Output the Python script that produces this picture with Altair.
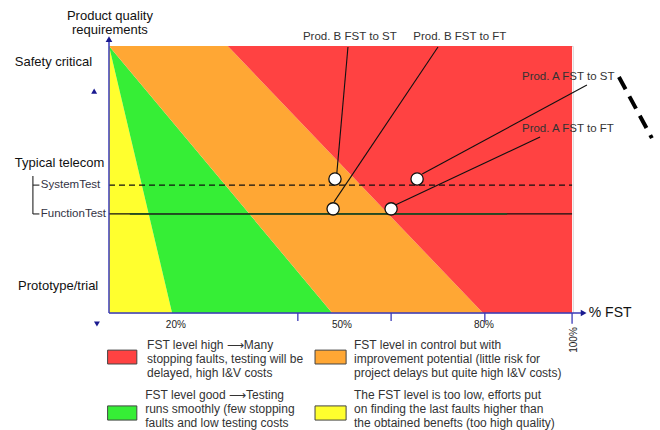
import altair as alt
import pandas as pd

# ---------------- data ----------------
zone_names = ["too low", "good", "in control", "high"]
zone_colors = ["#FFFF2E", "#36EE36", "#FFA734", "#FF4242"]
bound_bottom = [0, 13.6, 48.1, 80.6, 99.8]   # % FST where zone boundaries meet the bottom
bound_top = [0, 0, 0, 25.6, 99.8]            # % FST where zone boundaries meet the top

levels = ["Safety critical", "Typical telecom", "Prototype/trial"]
level_y = [94.0, 56.2, 10.1]
test_names = ["SystemTest", "FunctionTest"]
test_y = [47.9, 37.1]

point_names = ["Prod. B FST to ST", "Prod. A FST to ST", "Prod. B FST to  FT", "Prod. A FST to FT"]
point_x = [48.7, 66.4, 48.3, 60.8]
point_y = [50.2, 50.2, 39.0, 39.0]

tick_labels = ["20%", "50%", "80%"]
tick_label_x = [14.4, 50.2, 80.8]
tick_marks = [40.7, 60.8, 81.0, 99.8]

legend_texts = [
    "FST level high \u27F6Many\nstopping faults, testing will be\ndelayed, high I&V costs",
    "FST level in control but with\nimprovement potential (little risk for\nproject delays but quite high I&V costs)",
    "FST level good \u27F6Testing\nruns smoothly (few stopping\nfaults and low testing costs",
    "The FST level is too low,  efforts put\non finding the last faults higher than\nthe obtained benefts (too high quality)",
]
legend_zone = ["high", "in control", "good", "too low"]

FONT = "Liberation Sans"
AX = "#3a3ab8"

xs = alt.Scale(domain=[0, 100], nice=False, zero=False)
ys = alt.Scale(domain=[0, 100], nice=False, zero=False)


def X(f="x"):
    return alt.X(f"{f}:Q", scale=xs, axis=None)


def Y(f="y"):
    return alt.Y(f"{f}:Q", scale=ys, axis=None)


# ---------------- zones ----------------
rows = []
for i, z in enumerate(zone_names):
    rows.append({"zone": z, "y": 0, "x": bound_bottom[i], "x2": bound_bottom[i + 1]})
    rows.append({"zone": z, "y": 100, "x": bound_top[i], "x2": bound_top[i + 1]})
zones_df = pd.DataFrame(rows)
zone_scale = alt.Scale(domain=zone_names, range=zone_colors)

zones = alt.Chart(zones_df).mark_area(orient="horizontal", opacity=1).encode(
    y=Y(), x=X(), x2="x2:Q",
    color=alt.Color("zone:N", scale=zone_scale, legend=None),
)

# ---------------- test level lines ----------------
lines_df = pd.DataFrame({"name": test_names, "y": test_y, "x": [0, 0], "x2": [99.8, 99.8]})
sys_line = alt.Chart(lines_df[lines_df.name == "SystemTest"]).mark_rule(
    color="#111", strokeWidth=1.2, strokeDash=[6, 4]).encode(x=X(), x2="x2:Q", y=Y())
fun_line = alt.Chart(lines_df[lines_df.name == "FunctionTest"]).mark_rule(
    color="#111", strokeWidth=1.2).encode(x=X(), x2="x2:Q", y=Y())
fun_line2 = alt.Chart(pd.DataFrame({"x": [4.5], "x2": [85.8], "y": [test_y[1]]})).mark_rule(
    color="#224a22", strokeWidth=1.8).encode(x=X(), x2="x2:Q", y=Y())

# ---------------- leader lines + circles ----------------
lead_df = pd.DataFrame({
    "x": [49.1, 67.5, 48.5, 61.6], "y": [52.4, 52.1, 41.6, 40.4],
    "x2": [51.5, 103.0, 70.9, 92.9], "y2": [99.6, 85.4, 99.6, 65.9],
})
leaders = alt.Chart(lead_df).mark_rule(color="#111", strokeWidth=1.1).encode(
    x=X(), y=Y(), x2="x2:Q", y2="y2:Q")

pts_df = pd.DataFrame({"name": point_names, "x": point_x, "y": point_y})
points = alt.Chart(pts_df).mark_point(
    shape="circle", filled=True, fill="white", stroke="#111", strokeWidth=1.3,
    size=150, opacity=1).encode(x=X(), y=Y())

lab_top = alt.Chart(pd.DataFrame({"t": [point_names[0], point_names[2]], "x": [51.9, 75.6], "y": [103.4, 103.4]})).mark_text(
    font=FONT, fontSize=11.5, color="#333", align="center", baseline="middle").encode(x=X(), y=Y(), text="t:N")
lab_right = alt.Chart(pd.DataFrame({"t": [point_names[1], point_names[3]], "x": [89.0, 89.0], "y": [88.4, 68.9]})).mark_text(
    font=FONT, fontSize=11.5, color="#333", align="left", baseline="middle").encode(x=X(), y=Y(), text="t:N")

# decorative thick dashed stroke on the right
deco = alt.Chart(pd.DataFrame({"x": [109.9], "y": [88.4], "x2": [117.0], "y2": [65.5]})).mark_rule(
    color="#000", strokeWidth=4, strokeDash=[14, 8]).encode(x=X(), y=Y(), x2="x2:Q", y2="y2:Q")

# ---------------- axes ----------------
yaxis = alt.Chart(pd.DataFrame({"x": [0], "y": [0], "y2": [101.5]})).mark_rule(
    color=AX, strokeWidth=1.5).encode(x=X(), y=Y(), y2="y2:Q")
xaxis = alt.Chart(pd.DataFrame({"x": [0], "x2": [101.8], "y": [0]})).mark_rule(
    color=AX, strokeWidth=1.5).encode(x=X(), x2="x2:Q", y=Y())
arrow_up = alt.Chart(pd.DataFrame({"x": [0], "y": [102.6]})).mark_point(
    shape="triangle-up", filled=True, color="#1a1a90", size=45, opacity=1).encode(x=X(), y=Y())
arrow_right = alt.Chart(pd.DataFrame({"x": [102.3], "y": [0]})).mark_point(
    shape="triangle-right", filled=True, color="#1a1a90", size=45, opacity=1).encode(x=X(), y=Y())
tri_up = alt.Chart(pd.DataFrame({"x": [-3.2], "y": [83.1]})).mark_point(
    shape="triangle-up", filled=True, color="#1a1a90", size=35, opacity=1).encode(x=X(), y=Y())
tri_down = alt.Chart(pd.DataFrame({"x": [-2.6], "y": [-4.1]})).mark_point(
    shape="triangle-down", filled=True, color="#1a1a90", size=35, opacity=1).encode(x=X(), y=Y())

ticks_df = pd.DataFrame({"x": tick_marks, "y": [0] * 4, "y2": [-3.0, -3.0, -3.4, -4.0]})
ticks = alt.Chart(ticks_df).mark_rule(color=AX, strokeWidth=1.3).encode(x=X(), y=Y(), y2="y2:Q")

tick_text = alt.Chart(pd.DataFrame({"t": tick_labels, "x": tick_label_x, "y": [-4.5] * 3})).mark_text(
    font=FONT, fontSize=10, color="#222", align="center", baseline="middle").encode(x=X(), y=Y(), text="t:N")
tick_100 = alt.Chart(pd.DataFrame({"t": ["100%"], "x": [100.2], "y": [-10.1]})).mark_text(
    font=FONT, fontSize=10, color="#222", align="center", baseline="middle", angle=270).encode(x=X(), y=Y(), text="t:N")
fst_title = alt.Chart(pd.DataFrame({"t": ["% FST"], "x": [103.4], "y": [0]})).mark_text(
    font=FONT, fontSize=14, color="#111", align="left", baseline="middle").encode(x=X(), y=Y(), text="t:N")

y_title = alt.Chart(pd.DataFrame({"t": ["Product quality\nrequirements"], "x": [0.2], "y": [111.2]})).mark_text(
    font=FONT, fontSize=13, color="#111", align="center", baseline="middle", lineBreak="\n", lineHeight=14).encode(
    x=X(), y=Y(), text="t:N")

lvl_text = alt.Chart(pd.DataFrame({"t": levels, "x": [-20.3, -20.3, -19.6], "y": level_y})).mark_text(
    font=FONT, fontSize=13, color="#111", align="left", baseline="middle").encode(x=X(), y=Y(), text="t:N")
test_text = alt.Chart(pd.DataFrame({"t": test_names, "x": [-14.7, -14.7], "y": test_y})).mark_text(
    font=FONT, fontSize=11.5, color="#333344", align="left", baseline="middle").encode(x=X(), y=Y(), text="t:N")

bracket_v = alt.Chart(pd.DataFrame({"x": [-16.4], "y": [51.3], "y2": [test_y[1]]})).mark_rule(
    color="#222", strokeWidth=1.1).encode(x=X(), y=Y(), y2="y2:Q")
bracket_h = alt.Chart(pd.DataFrame({"x": [-16.4, -16.4], "x2": [-15.0, -15.0], "y": test_y})).mark_rule(
    color="#222", strokeWidth=1.1).encode(x=X(), x2="x2:Q", y=Y())

# ---------------- legend ----------------
leg_df = pd.DataFrame({
    "zone": legend_zone,
    "x": [-0.3, 44.4, -0.3, 44.4], "x2": [6.0, 51.1, 6.0, 51.1],
    "y": [-13.9, -13.9, -34.8, -34.8], "y2": [-19.1, -19.1, -40.1, -40.1],
})
leg_rect = alt.Chart(leg_df).mark_rect(stroke="#444", strokeWidth=1).encode(
    x=X(), x2="x2:Q", y=Y(), y2="y2:Q",
    color=alt.Color("zone:N", scale=zone_scale, legend=None))
leg_txt_df = pd.DataFrame({"t": legend_texts, "x": [8.2, 52.8, 7.8, 52.8], "y": [-12.0, -12.0, -30.7, -30.7]})
leg_txt = alt.Chart(leg_txt_df).mark_text(
    font=FONT, fontSize=12, color="#333", align="left", baseline="middle", lineBreak="\n", lineHeight=14.2).encode(
    x=X(), y=Y(), text="t:N")

chart = alt.layer(
    zones, sys_line, fun_line, fun_line2, leaders, points, lab_top, lab_right, deco,
    yaxis, xaxis, arrow_up, arrow_right, tri_up, tri_down, ticks, tick_text, tick_100, fst_title,
    y_title, lvl_text, test_text, bracket_v, bracket_h, leg_rect, leg_txt,
).properties(
    width=464, height=267,
    padding={"left": 109, "top": 46, "right": 87, "bottom": 117},
    autosize="none",
).configure_view(stroke=None).configure(background="white")

chart.save("out.html", embed_options={"renderer": "svg", "actions": False})
